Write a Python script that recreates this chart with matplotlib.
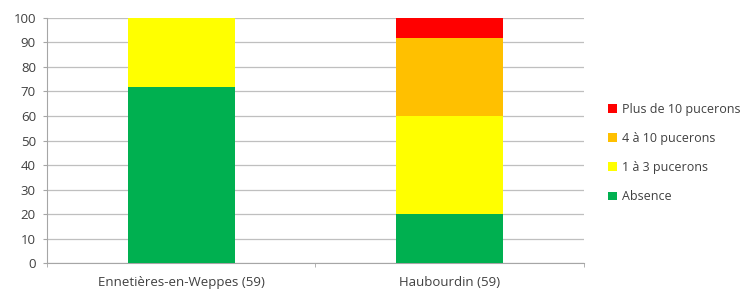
import numpy as np
import matplotlib.pyplot as plt

sites = ["Ennetières-en-Weppes (59)", "Haubourdin (59)"]
classes = ["Absence", "1 à 3 pucerons", "4 à 10 pucerons", "Plus de 10 pucerons"]
absence = [72, 20]
un_trois = [28, 40]
quatre_dix = [0, 32]
plus_dix = [0, 8]

colors = ["#00B050", "#FFFF00", "#FFC000", "#FF0000"]
plt.rcParams["font.family"] = ["Open Sans", "DejaVu Sans"]

fig = plt.figure(figsize=(7.51, 2.90), dpi=100)
ax = fig.add_axes([0.0626, 0.093, 0.715, 0.845])

x = np.arange(len(sites))
bottom = np.zeros(len(sites))
handles = []
for vals, col, lab in zip([absence, un_trois, quatre_dix, plus_dix], colors, classes):
    b = ax.bar(x, vals, width=0.4, bottom=bottom, color=col, label=lab, zorder=3)
    handles.append(b)
    bottom += np.array(vals)

ax.set_xlim(-0.5, 1.5)
ax.set_ylim(0, 100)
ax.set_yticks(range(0, 101, 10))
ax.set_xticks(x)
ax.set_xticklabels(sites)
ax.set_xticks([-0.5, 0.5, 1.5], minor=True)
ax.tick_params(axis="x", which="major", length=0, labelsize=9.5, colors="#404040", pad=9)
ax.tick_params(axis="x", which="minor", length=3, color="#A6A6A6")
ax.tick_params(axis="y", length=3, color="#A6A6A6", labelsize=9.5, labelcolor="#404040", pad=5)
ax.grid(axis="y", color="#BFBFBF", linewidth=0.9, zorder=0)
for s in ["top", "right"]:
    ax.spines[s].set_visible(False)
for s in ["left", "bottom"]:
    ax.spines[s].set_color("#A6A6A6")

ax.legend(handles[::-1], classes[::-1], loc="upper left", bbox_to_anchor=(1.035, 0.675),
          frameon=False, fontsize=9, handlelength=0.7, handleheight=0.7,
          handletextpad=0.4, labelspacing=1.3, labelcolor="#404040",
          borderaxespad=0)

fig.savefig("out.png", dpi=100)
